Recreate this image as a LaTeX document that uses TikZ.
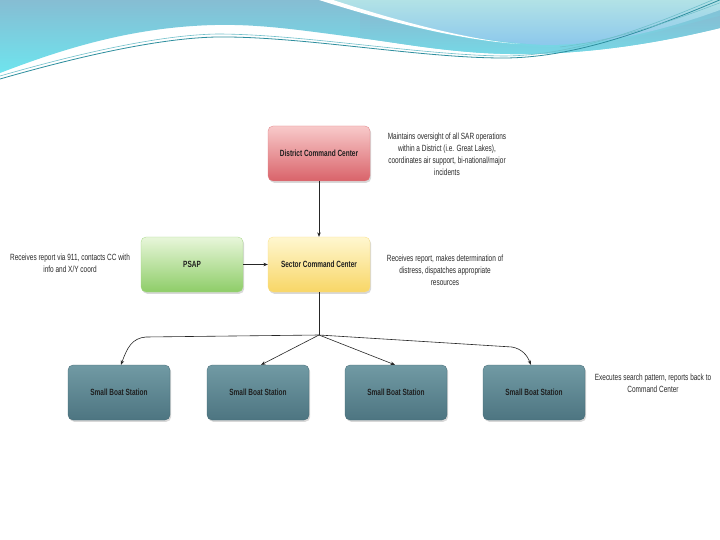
\documentclass[tikz,border=0pt]{standalone}
\usepackage{fontspec}
\setmainfont{Liberation Sans}[FakeStretch=0.72]
\usetikzlibrary{arrows.meta,shadows}
\definecolor{txt}{HTML}{2A2A2A}
\definecolor{redtop}{HTML}{F8CACA}
\definecolor{redbot}{HTML}{D9636A}
\definecolor{yeltop}{HTML}{FFF7D0}
\definecolor{yelbot}{HTML}{F8D666}
\definecolor{grntop}{HTML}{E8F6DA}
\definecolor{grnbot}{HTML}{8ECD68}
\definecolor{boattop}{HTML}{719AA4}
\definecolor{boatbot}{HTML}{4D7581}
\definecolor{hdrtop}{HTML}{86BDD3}
\definecolor{hdrbot}{HTML}{6EE4EE}
\definecolor{bubtop}{HTML}{B2E2E6}
\definecolor{bubbot}{HTML}{8CC8EC}
\definecolor{teal1}{HTML}{2E8E9E}
\definecolor{teal2}{HTML}{6FBFCA}
\tikzset{
  box/.style={rounded corners=5pt, minimum width=102pt, minimum height=55pt,
    font=\fontsize{9}{10}\selectfont\bfseries, text=black!88, line width=0.3pt,
    drop shadow={shadow xshift=1.2pt, shadow yshift=-1.8pt, opacity=0.3}},
  redbox/.style={box, top color=redtop, bottom color=redbot, middle color=redtop!50!redbot, draw=redbot!80!white},
  yelbox/.style={box, top color=yeltop, bottom color=yelbot, draw=yelbot!80!white},
  grnbox/.style={box, top color=grntop, bottom color=grnbot, draw=grnbot!80!white},
  boatbox/.style={box, top color=boattop, bottom color=boatbot, draw=boatbot!90!black},
  desc/.style={font=\fontsize{9}{12}\selectfont, text=txt, align=center, inner sep=0pt},
  conn/.style={draw=black!85, line width=0.6pt, -{Stealth[length=4.5pt,width=3.5pt]}},
  wline/.style={line width=0.6pt, draw=black!85}
}
\begin{document}
\begin{tikzpicture}[x=1pt,y=-1pt]
\useasboundingbox (0,0) rectangle (720,540);
\fill[white] (0,0) rectangle (720,540);
% header waves
\shade[top color=hdrtop, bottom color=hdrbot]
  (0,0) -- (720,0) -- (720,28)
  .. controls (650,45) and (580,55) .. (510,54)
  .. controls (450,53) and (400,43) .. (360,38)
  .. controls (300,30) and (260,24) .. (215,25)
  .. controls (130,27) and (60,50) .. (0,73) -- cycle;
\shade[top color=hdrtop, bottom color=hdrbot!70!hdrtop]
  (360,14) .. controls (420,30) and (480,45) .. (545,47)
  .. controls (610,48) and (670,28) .. (720,16) -- (720,28)
  .. controls (650,45) and (580,55) .. (510,54)
  .. controls (450,53) and (400,43) .. (360,38) -- cycle;
\shade[top color=bubtop, bottom color=bubbot]
  (325,0) -- (720,0) -- (720,10)
  .. controls (670,28) and (610,45) .. (545,45)
  .. controls (480,42) and (400,25) .. (325,0) -- cycle;
\fill[white] (316,-1) .. controls (400,26) and (470,41) .. (520,44)
  .. controls (470,40) and (400,22) .. (330,-1) -- cycle;
\draw[teal1, line width=0.8pt] (0,79) .. controls (80,56) and (160,38) .. (217,37)
  .. controls (300,36) and (420,58) .. (503,58) .. controls (580,58) and (660,25) .. (722,-1);
\draw[teal2, line width=0.6pt] (0,76) .. controls (80,53) and (160,35) .. (217,34)
  .. controls (300,34) and (420,55) .. (503,56) .. controls (580,56) and (660,22) .. (722,-4);
\draw[teal2, line width=0.5pt] (560,47) .. controls (620,40) and (680,18) .. (722,2);
% nodes
\node[redbox] (dcc) at (319,153.5) {District Command Center};
\node[yelbox] (scc) at (319,264.5) {Sector Command Center};
\node[grnbox] (psap) at (192,264.5) {PSAP};
\node[boatbox] (b1) at (119,392.5) {Small Boat Station};
\node[boatbox] (b2) at (258,392.5) {Small Boat Station};
\node[boatbox] (b3) at (396,392.5) {Small Boat Station};
\node[boatbox] (b4) at (534,392.5) {Small Boat Station};
% descriptions
\node[desc] (ddcc) at (447,154) {Maintains oversight of all SAR operations\\within a District (i.e. Great Lakes),\\coordinates air support, bi-national/major\\incidents};
\node[desc] (dscc) at (445,270) {Receives report, makes determination of\\distress, dispatches appropriate\\resources};
\node[desc] (dpsap) at (70,263) {Receives report via 911, contacts CC with\\info and X/Y coord};
\node[desc] (dboat) at (653,383) {Executes search pattern, reports back to\\Command Center};
% connectors
\coordinate (hub) at (319,335);
\coordinate (k1) at (146,337);
\coordinate (k4) at (512,347);
\draw[conn] (dcc.south) -- (scc.north);
\draw[conn] (psap.east) -- (scc.west);
\draw[wline] (scc.south) -- (hub);
\draw[conn] (hub) -- (k1) .. controls (132,338) and (127,348) .. ([xshift=2pt]b1.north);
\draw[conn] (hub) -- ([xshift=3pt]b2.north);
\draw[conn] (hub) -- ([xshift=-1pt]b3.north);
\draw[conn] (hub) -- (k4) .. controls (522,349) and (527,355) .. ([xshift=-3pt]b4.north);
\end{tikzpicture}
\end{document}
